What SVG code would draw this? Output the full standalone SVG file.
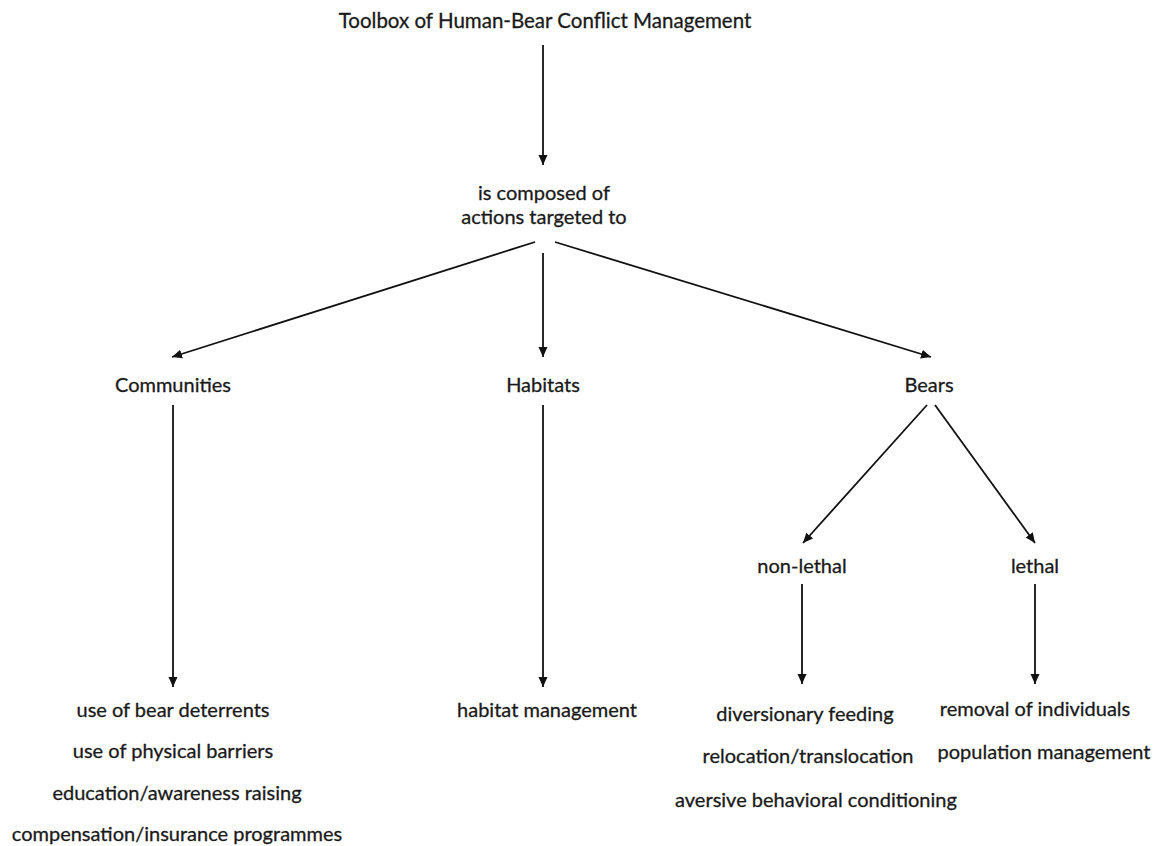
<svg xmlns="http://www.w3.org/2000/svg" width="1153" height="846" viewBox="0 0 1153 846">
<style>
text{font-family:Lato,"Open Sans","Liberation Sans",sans-serif;font-size:20px;fill:#1a1a1a;stroke:#1a1a1a;stroke-width:0.3;text-anchor:middle}
.c line{stroke:#111;stroke-width:1.8;fill:none;marker-end:url(#ah)}
</style>
<defs>
<marker id="ah" markerUnits="userSpaceOnUse" markerWidth="10" markerHeight="10" viewBox="0 0 10 10" refX="10" refY="5" orient="auto">
<path d="M0,0.5 L10,5 L0,9.5 z" fill="#111"/>
</marker>
</defs>
<rect width="1153" height="846" fill="#fff"/>
<g id="title"><text x="545" y="28" style="font-size:20.5px">Toolbox of Human-Bear Conflict Management</text></g>
<g id="composed"><text x="544" y="200">is composed of</text><text x="544" y="224">actions targeted to</text></g>
<g id="communities"><text x="173" y="392">Communities</text></g>
<g id="habitats"><text x="543" y="392">Habitats</text></g>
<g id="bears"><text x="929" y="392">Bears</text></g>
<g id="nonlethal"><text x="802" y="573">non-lethal</text></g>
<g id="lethal"><text x="1035" y="573">lethal</text></g>
<g id="community-actions">
<text x="173" y="717">use of bear deterrents</text>
<text x="173" y="758">use of physical barriers</text>
<text x="177" y="800">education/awareness raising</text>
<text x="177" y="841">compensation/insurance programmes</text>
</g>
<g id="habitat-actions"><text x="547" y="717">habitat management</text></g>
<g id="nonlethal-actions">
<text x="805" y="721">diversionary feeding</text>
<text x="808" y="763">relocation/translocation</text>
<text x="816" y="807">aversive behavioral conditioning</text>
</g>
<g id="lethal-actions">
<text x="1035" y="716">removal of individuals</text>
<text x="1044" y="759">population management</text>
</g>
<g id="connectors" class="c">
<line x1="543" y1="45" x2="543" y2="165"/>
<line x1="535" y1="242" x2="172" y2="357"/>
<line x1="543" y1="253" x2="543" y2="357"/>
<line x1="555" y1="242" x2="931" y2="357"/>
<line x1="173" y1="405" x2="173" y2="687"/>
<line x1="543" y1="405" x2="543" y2="687"/>
<line x1="927" y1="405" x2="803" y2="543"/>
<line x1="935" y1="405" x2="1035" y2="543"/>
<line x1="802" y1="584" x2="802" y2="684"/>
<line x1="1035" y1="584" x2="1035" y2="684"/>
</g>
</svg>
